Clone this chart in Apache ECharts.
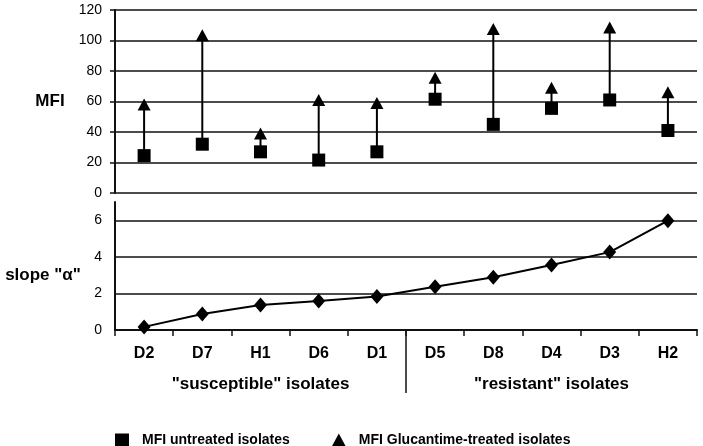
<!DOCTYPE html>
<html><head><meta charset="utf-8">
<script src="https://cdn.jsdelivr.net/npm/echarts@6/dist/echarts.min.js"></script>
<style>html,body{margin:0;padding:0;background:#fff}#c{width:703px;height:446px}</style>
</head><body><div id="c"></div>
<script>
const categories = ['D2','D7','H1','D6','D1','D5','D8','D4','D3','H2'];
const mfiUntreated = [24.5, 32, 27, 21.6, 27, 61.5, 45, 55.5, 61, 41];
const mfiTreated = [58, 103.5, 39, 61, 59, 75.5, 107.5, 69, 108.5, 66];
const slopeAlpha = [0.17, 0.88, 1.37, 1.58, 1.83, 2.37, 2.89, 3.56, 4.26, 5.98];
const slopeGridValues = [2, 4, 6];
const groupNames = ['"susceptible" isolates', '"resistant" isolates'];
const groupCenterIdx = [2, 7];
const splitAfterIdx = 4;

const FONT = '"Liberation Sans", Arial, sans-serif';
const chart = echarts.init(document.getElementById('c'));
const lineBlack = {color:'#111', width:1.6};

chart.setOption({
  animation:false,
  backgroundColor:'#fff',
  textStyle:{fontFamily:FONT,color:'#000'},
  grid:[
    {left:115, right:6, top:10, height:183},
    {left:115, right:6, top:202, height:128}
  ],
  legend:{
    left:110, top:428, itemWidth:14, itemHeight:13, itemGap:42,
    data:[{name:'MFI untreated isolates', icon:'rect'},{name:'MFI Glucantime-treated isolates', icon:'triangle'}],
    itemStyle:{opacity:1},
    textStyle:{fontFamily:FONT, fontWeight:'bold', fontSize:14, color:'#000', padding:[0,0,0,8]}
  },
  xAxis:[
    {gridIndex:0, type:'category', data:categories, axisLine:{show:false}, axisTick:{show:false}, axisLabel:{show:false}},
    {gridIndex:1, type:'category', data:categories,
     axisLine:{lineStyle:{color:'#111', width:2}},
     axisTick:{show:true, length:6, lineStyle:{color:'#111', width:1.5}},
     axisLabel:{fontFamily:FONT, fontWeight:'bold', fontSize:16, color:'#000', margin:16}}
  ],
  yAxis:[
    {gridIndex:0, type:'value', min:0, max:120, interval:20,
     axisLine:{show:true, lineStyle:{color:'#111', width:2}},
     axisTick:{show:true, length:5, lineStyle:{color:'#111', width:1.5}},
     splitLine:{lineStyle:lineBlack},
     axisLabel:{fontFamily:FONT, fontSize:14, color:'#000', margin:13}},
    {gridIndex:1, type:'value', min:0, max:7, interval:2,
     axisLine:{show:true, lineStyle:{color:'#111', width:2}}, axisTick:{show:false},
     splitLine:{show:false},
     axisLabel:{fontFamily:FONT, fontSize:14, color:'#000', margin:13, showMaxLabel:false}}
  ],
  series:[
    {type:'custom', xAxisIndex:0, yAxisIndex:0, silent:true, z:2,
     data: categories.map((c,i)=>[i, mfiUntreated[i], mfiTreated[i]]),
     encode:{x:0, y:[1,2]},
     renderItem:function(params, api){
       const x = api.value(0);
       const p1 = api.coord([x, api.value(1)]);
       const p2 = api.coord([x, api.value(2)]);
       return {type:'line', shape:{x1:p1[0], y1:p1[1], x2:p2[0], y2:p2[1]}, style:{stroke:'#000', lineWidth:2}};
     }},
    {name:'MFI untreated isolates', type:'scatter', xAxisIndex:0, yAxisIndex:0, z:4,
     symbol:'rect', symbolSize:13, itemStyle:{color:'#000', opacity:1}, data:mfiUntreated},
    {name:'MFI Glucantime-treated isolates', type:'scatter', xAxisIndex:0, yAxisIndex:0, z:4,
     symbol:'triangle', symbolSize:[13,12], itemStyle:{color:'#000', opacity:1}, data:mfiTreated},
    {name:'slope', type:'line', xAxisIndex:1, yAxisIndex:1, z:4,
     symbol:'diamond', symbolSize:[13,15], itemStyle:{color:'#000'},
     lineStyle:{color:'#000', width:2}, data:slopeAlpha,
     markLine:{silent:true, symbol:'none', label:{show:false}, z:1,
       lineStyle:{color:'#111', width:1.6, type:'solid'},
       data: slopeGridValues.map(v=>({yAxis:v}))}}
  ]
});

const xa = chart.convertToPixel({xAxisIndex:1}, splitAfterIdx);
const xb = chart.convertToPixel({xAxisIndex:1}, splitAfterIdx+1);
const sepX = (xa+xb)/2;
const y0 = chart.convertToPixel({yAxisIndex:1}, 0);
const graphics = [
  {type:'line', shape:{x1:sepX, y1:y0, x2:sepX, y2:y0+63}, style:{stroke:'#111', lineWidth:1.5}},
  {type:'text', x:50, y:chart.convertToPixel({yAxisIndex:0}, 60), style:{text:'MFI', font:'bold 17px '+FONT, fill:'#000', align:'center', verticalAlign:'middle'}},
  {type:'text', x:43, y:chart.convertToPixel({yAxisIndex:1}, 3), style:{text:'slope "\u03b1"', font:'bold 17px '+FONT, fill:'#000', align:'center', verticalAlign:'middle'}}
];
groupNames.forEach((g,i)=>{
  graphics.push({type:'text', x:chart.convertToPixel({xAxisIndex:1}, groupCenterIdx[i]), y:y0+54,
    style:{text:g, font:'bold 17px '+FONT, fill:'#000', align:'center', verticalAlign:'middle'}});
});
chart.setOption({graphic:graphics});
</script>
</body></html>
